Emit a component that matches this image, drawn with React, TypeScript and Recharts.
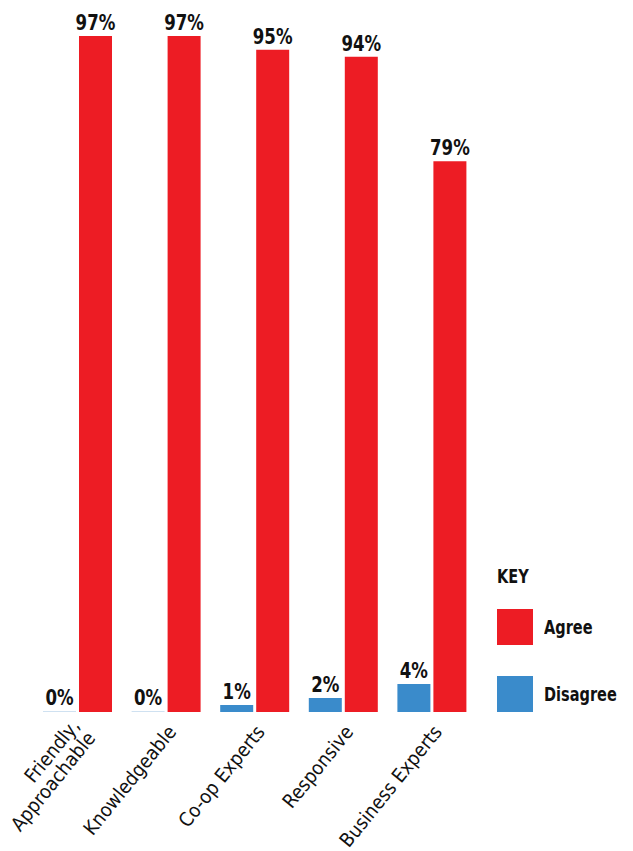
import React from 'react';
import { BarChart, Bar, XAxis, YAxis, LabelList, Legend, Cell } from 'recharts';

const categories = ['Friendly,\nApproachable', 'Knowledgeable', 'Co-op Experts', 'Responsive', 'Business Experts'];
const agree = [97, 97, 95, 94, 79];
const disagree = [0, 0, 1, 2, 4];

const RED = '#ED1C24';
const BLUE = '#3A8BCB';
const FONT = '"DejaVu Sans Condensed", "Liberation Sans Narrow", sans-serif';

const data = categories.map((name, i) => ({ name, Agree: agree[i], Disagree: disagree[i] }));

const AxisTick = (props: any) => {
    const { x, y, payload } = props;
    const lines: string[] = String(payload.value).split('\n');
    const lh = 20;
    return (
        <g transform={`translate(${x + 6},${y + 8}) rotate(-51)`}>
            <text textAnchor="end" fontFamily={FONT} fontSize={19.5} fill="#111">
                {lines.map((l, i) => (
                    <tspan key={i} x={0} y={(i - (lines.length - 1) / 2) * lh} dy="0.35em">
                        {l}
                    </tspan>
                ))}
            </text>
        </g>
    );
};

// condensed bold value label on top of each bar
const ValueLabel = (props: any) => {
    const { x, y, width, value } = props;
    return (
        <g transform={`translate(${x + width / 2},${y - 6}) scale(0.84,1)`}>
            <text textAnchor="middle" fontFamily={FONT} fontWeight={700} fontSize={22} fill="#111">
                {`${value}%`}
            </text>
        </g>
    );
};

const KeyLegend = (props: any) => {
    const order = ['Agree', 'Disagree'];
    const items = [...(props.payload || [])].sort((a: any, b: any) => order.indexOf(a.value) - order.indexOf(b.value));
    return (
        <div style={{ fontFamily: FONT, fontWeight: 700, color: '#111' }}>
            <div style={{ fontSize: 19, height: 46, lineHeight: '26px', transform: 'scaleX(0.85)', transformOrigin: 'left' }}>KEY</div>
            {items.map((it: any) => (
                <div key={it.value} style={{ display: 'flex', alignItems: 'center', height: 36, marginBottom: 31 }}>
                    <div style={{ width: 36, height: 36, background: it.color, flex: 'none' }} />
                    <span style={{ fontSize: 19, marginLeft: 11, display: 'inline-block', transform: 'scaleX(0.85)', transformOrigin: 'left' }}>
                        {it.value}
                    </span>
                </div>
            ))}
        </div>
    );
};

export default function App() {
    return (
        <div style={{ position: 'absolute', left: 0, top: 0, width: 633, height: 851, background: '#fff' }}>
            <BarChart
                width={633}
                height={851}
                data={data}
                margin={{ top: 15, right: 157, left: 33, bottom: 0 }}
                barSize={33}
                barGap={3}
            >
                <XAxis
                    dataKey="name"
                    height={139}
                    interval={0}
                    tickLine={false}
                    axisLine={false}
                    tick={<AxisTick />}
                />
                <YAxis hide domain={[0, 100]} />
                <Legend
                    layout="vertical"
                    align="center"
                    verticalAlign="middle"
                    wrapperStyle={{ left: 497, top: 563, width: 136 }}
                    content={<KeyLegend />}
                />
                <Bar dataKey="Disagree" fill={BLUE} minPointSize={1} isAnimationActive={false}>
                    {disagree.map((v, i) => (
                        <Cell key={i} fill={v === 0 ? '#CFE1F1' : BLUE} />
                    ))}
                    <LabelList dataKey="Disagree" content={<ValueLabel />} />
                </Bar>
                <Bar dataKey="Agree" fill={RED} isAnimationActive={false}>
                    <LabelList dataKey="Agree" content={<ValueLabel />} />
                </Bar>
            </BarChart>
        </div>
    );
}
